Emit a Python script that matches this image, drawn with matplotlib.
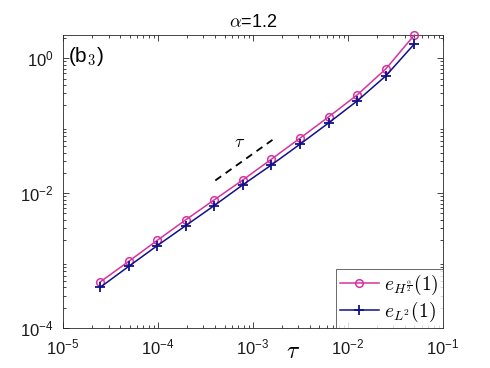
import numpy as np
import matplotlib
matplotlib.use("Agg")
import matplotlib.pyplot as plt
from matplotlib.ticker import LogLocator, NullFormatter

plt.rcParams['font.family'] = ['Liberation Sans', 'DejaVu Sans']
plt.rcParams['mathtext.fontset'] = 'cm'

tau = [0.05 / 2**k for k in range(11, -1, -1)]
err_H = [4.80e-4, 9.70e-4, 1.99e-3, 4.02e-3, 7.96e-3, 1.57e-2, 3.19e-2, 6.53e-2,
         0.135, 0.286, 0.694, 2.21]
err_L2 = [3.99e-4, 8.18e-4, 1.66e-3, 3.30e-3, 6.55e-3, 1.33e-2, 2.62e-2, 5.32e-2,
          0.110, 0.233, 0.547, 1.63]
ref_x = [4.0e-4, 1.6e-3]
ref_C = 38.5

pink = '#D6339E'
navy = '#10108A'

fig = plt.figure(figsize=(4.9, 3.68), dpi=100)
ax = fig.add_axes([0.129, 0.1087, 0.775, 0.7963])

ax.loglog(tau, err_H, '-o', color=pink, lw=1.1, ms=5.5, mfc='none', mew=1.1,
          label=r'$e_{H^{\frac{\alpha}{2}}}(1)$', clip_on=False, zorder=3)
ax.loglog(tau, err_L2, '-+', color=navy, lw=1.1, ms=6.5, mew=1.3,
          label=r'$e_{L^2}(1)$', clip_on=False, zorder=3)
ax.loglog(ref_x, [ref_C * x for x in ref_x], '--', color='black', lw=1.3,
          dashes=(4, 3))

ax.text(240 / 490, 1 - 142 / 368, r'$\tau$', transform=fig.transFigure,
        fontsize=13, ha='center', va='center')

ax.set_xlim(1e-5, 1e-1)
ax.set_ylim(1e-4, 10**0.345)
ax.set_xticks([1e-5, 1e-4, 1e-3, 1e-2, 1e-1])
ax.set_yticks([1e-4, 1e-2, 1e0])
ax.yaxis.set_minor_locator(LogLocator(base=10, subs=np.arange(2, 10), numticks=20))
ax.xaxis.set_minor_locator(LogLocator(base=10, subs=np.arange(2, 10), numticks=20))
ax.yaxis.set_minor_formatter(NullFormatter())
ax.xaxis.set_minor_formatter(NullFormatter())
ax.tick_params(which='both', direction='in', top=True, right=True, labelsize=12,
               color='#262626', width=0.6, labelcolor='#1a1a1a')
ax.tick_params(which='major', length=4)
ax.tick_params(which='minor', length=2)
ax.tick_params(axis='x', which='major', pad=7)
ax.tick_params(axis='y', which='major', pad=7)
for s in ax.spines.values():
    s.set_linewidth(0.6)
    s.set_color('#262626')

ax.set_title(r'$\alpha$=1.2', fontsize=13, pad=6)
ax.text(293 / 490, 1 - 352 / 368, r'$\tau$', transform=fig.transFigure,
        fontsize=17, ha='center', va='center')
ax.text(0.012, 0.925, r'(b$_3$)', transform=ax.transAxes, fontsize=15,
        ha='left', va='center')

leg = ax.legend(loc='lower right', fontsize=14, frameon=True, fancybox=False,
                borderaxespad=0, handlelength=2.0, borderpad=0.2,
                labelspacing=0.15, handletextpad=0.3)
leg.get_frame().set_edgecolor('#262626')
leg.get_frame().set_linewidth(0.6)

fig.savefig('out.png', dpi=100)
